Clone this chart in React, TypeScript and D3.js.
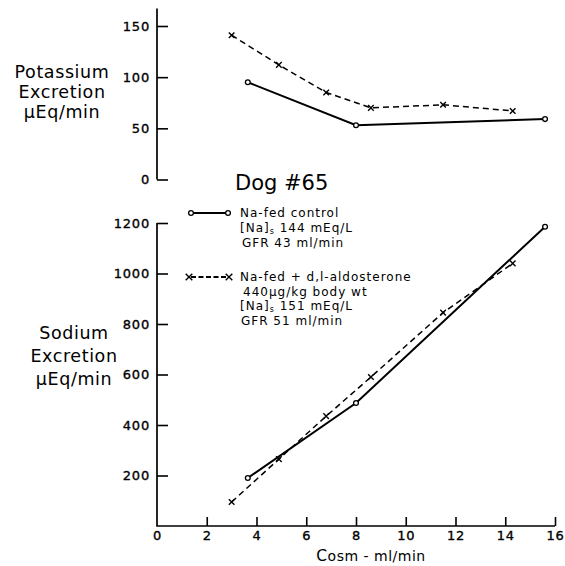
import { useEffect, useRef } from "react";
import * as d3 from "d3";

// Cosm (ml/min) for the two series
const xControl = [3.65, 8.0, 15.6];
const xAldo = [3.0, 4.9, 6.8, 8.6, 11.5, 14.3];

// Potassium excretion, uEq/min
const kControl = [95, 53, 59];
const kAldo = [141, 112, 85, 70, 73, 67];

// Sodium excretion, uEq/min
const naControl = [190, 487, 1185];
const naAldo = [95, 265, 435, 590, 845, 1040];

const xTicks = [0, 2, 4, 6, 8, 10, 12, 14, 16];
const kTicks = [0, 50, 100, 150];
const naTicks = [200, 400, 600, 800, 1000, 1200];

const FONT = "DejaVu Sans";

export default function App() {
  const svgRef = useRef<SVGSVGElement>(null);

  useEffect(() => {
    if (!svgRef.current) return;
    const svg = d3.select(svgRef.current);
    svg.selectAll("*").remove();

    const x = d3.scaleLinear().domain([0, 16]).range([157, 555]);
    const yK = d3.scaleLinear().domain([0, 150]).range([179.5, 26]);
    const yNa = d3.scaleLinear().domain([0, 1200]).range([526, 223]);

    // axes lines
    svg.append("line")
      .attr("x1", x(0)).attr("x2", x(0))
      .attr("y1", yK(167)).attr("y2", yK(0))
      .attr("stroke", "#000").attr("stroke-width", 1.7);
    svg.append("path")
      .attr("d", `M${x(0)},${yNa(1200)}V${yNa(0)}H${x(16)}`)
      .attr("fill", "none").attr("stroke", "#000").attr("stroke-width", 1.7);

    const fmt = d3.format("d");
    const yAxisK = d3.axisLeft(yK).tickValues(kTicks).tickFormat(fmt as any).tickSize(-11).tickPadding(7);
    const yAxisNa = d3.axisLeft(yNa).tickValues(naTicks).tickFormat(fmt as any).tickSize(-11).tickPadding(7);
    const xAxis = d3.axisBottom(x).tickValues(xTicks).tickFormat(fmt as any).tickSize(-9).tickPadding(5);

    const styleAxis = (g: any) => {
      g.select(".domain").remove();
      g.selectAll("line").attr("stroke", "#000").attr("stroke-width", 1.6);
      g.selectAll("text")
        .attr("fill", "#000")
        .attr("stroke", "#000")
        .attr("stroke-width", 0.35)
        .attr("font-family", FONT)
        .attr("font-size", 13)
        .attr("letter-spacing", 0.8);
    };

    svg.append("g").attr("transform", `translate(${x(0)},0)`).call(yAxisK).call(styleAxis);
    svg.append("g").attr("transform", `translate(${x(0)},0)`).call(yAxisNa).call(styleAxis);
    const gx = svg.append("g").attr("transform", `translate(0,${yNa(0)})`).call(xAxis).call(styleAxis);
    gx.selectAll(".tick").filter((d: any) => d === 0).select("line").remove();

    // axis titles
    const title = (lines: string[], cx: number, y0: number, dy: number) => {
      lines.forEach((t, i) => {
        svg.append("text")
          .attr("x", cx).attr("y", y0 + i * dy)
          .attr("text-anchor", "middle")
          .attr("font-family", FONT)
          .attr("font-size", 17.5)
          .attr("letter-spacing", 0.6)
          .attr("fill", "#000")
          .text(t);
      });
    };
    title(["Potassium", "Excretion", "\u00b5Eq/min"], 62, 78, 20);
    title(["Sodium", "Excretion", "\u00b5Eq/min"], 74, 339, 23);

    const xt = svg.append("text")
      .attr("x", 371).attr("y", 561)
      .attr("text-anchor", "middle")
      .attr("font-family", FONT)
      .attr("font-size", 15.5)
      .attr("letter-spacing", 0.5)
      .attr("fill", "#000");
    xt.append("tspan").text("C");
    xt.append("tspan").attr("font-size", 14).text("osm - ml/min");

    // series
    const lineOf = (ys: d3.ScaleLinear<number, number>) =>
      d3.line<[number, number]>().x(d => x(d[0])).y(d => ys(d[1]));

    const drawSolid = (xs: number[], vs: number[], ys: d3.ScaleLinear<number, number>) => {
      const pts = xs.map((v, i) => [v, vs[i]] as [number, number]);
      svg.append("path")
        .attr("d", lineOf(ys)(pts))
        .attr("fill", "none").attr("stroke", "#000").attr("stroke-width", 2);
      svg.selectAll(null)
        .data(pts)
        .join("circle")
        .attr("cx", d => x(d[0])).attr("cy", d => ys(d[1]))
        .attr("r", 2.4)
        .attr("fill", "#fff").attr("stroke", "#000").attr("stroke-width", 1.3);
    };

    const cross = (cx: number, cy: number, s: number) => {
      svg.append("path")
        .attr("d", `M${cx - s},${cy - s}L${cx + s},${cy + s}M${cx + s},${cy - s}L${cx - s},${cy + s}`)
        .attr("stroke", "#000").attr("stroke-width", 1.4).attr("fill", "none");
    };

    const drawDashed = (xs: number[], vs: number[], ys: d3.ScaleLinear<number, number>) => {
      const pts = xs.map((v, i) => [v, vs[i]] as [number, number]);
      svg.append("path")
        .attr("d", lineOf(ys)(pts))
        .attr("fill", "none").attr("stroke", "#000").attr("stroke-width", 1.5)
        .attr("stroke-dasharray", "6,4");
      pts.forEach(d => cross(x(d[0]), ys(d[1]), 2.8));
    };

    drawDashed(xAldo, kAldo, yK);
    drawSolid(xControl, kControl, yK);
    drawDashed(xAldo, naAldo, yNa);
    drawSolid(xControl, naControl, yNa);

    // title
    svg.append("text")
      .attr("x", 235).attr("y", 190)
      .attr("font-family", FONT).attr("font-size", 21)
      .attr("fill", "#000")
      .text("Dog #65");

    // legend
    const leg = (t: string, lx: number, ly: number, sub?: [string, string]) => {
      const el = svg.append("text")
        .attr("x", lx).attr("y", ly)
        .attr("font-family", FONT).attr("font-size", 12)
        .attr("letter-spacing", 1)
        .attr("fill", "#000");
      if (sub) {
        el.append("tspan").text(t);
        el.append("tspan").attr("font-size", 8).attr("dy", 2).text(sub[0]);
        el.append("tspan").attr("dy", -2).text(sub[1]);
      } else {
        el.text(t);
      }
    };

    svg.append("line")
      .attr("x1", 191).attr("x2", 228).attr("y1", 213).attr("y2", 213)
      .attr("stroke", "#000").attr("stroke-width", 2.2);
    [191, 228].forEach(cx =>
      svg.append("circle").attr("cx", cx).attr("cy", 213).attr("r", 2.4)
        .attr("fill", "#fff").attr("stroke", "#000").attr("stroke-width", 1.3));
    leg("Na-fed control", 240, 217);
    leg("[Na]", 240, 232, ["s", " 144 mEq/L"]);
    leg("GFR  43 ml/min", 242, 247);

    svg.append("line")
      .attr("x1", 191).attr("x2", 226).attr("y1", 277).attr("y2", 277)
      .attr("stroke", "#000").attr("stroke-width", 2.2).attr("stroke-dasharray", "5,2.5");
    cross(189, 277, 3.3);
    cross(229, 277, 3.3);
    leg("Na-fed + d,l-aldosterone", 240, 281);
    leg("440\u00b5g/kg body wt", 243, 295.5);
    leg("[Na]", 240, 310, ["s", " 151 mEq/L"]);
    leg("GFR  51  ml/min", 241, 325);
  }, []);

  return (
    <svg
      ref={svgRef}
      width={565}
      height={566}
      style={{ position: "absolute", left: 0, top: 0, background: "#fff" }}
    />
  );
}
